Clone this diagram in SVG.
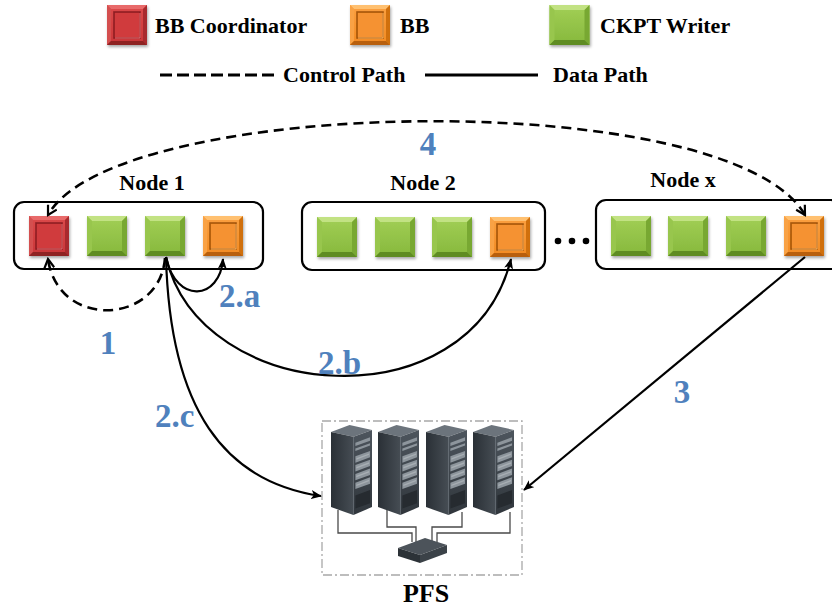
<svg xmlns="http://www.w3.org/2000/svg" xmlns:xlink="http://www.w3.org/1999/xlink" width="832" height="609" viewBox="0 0 832 609">
  <defs>
    <style>
      text { font-family: "Liberation Serif", "DejaVu Serif", "Times New Roman", serif; font-weight: bold; }
      .lbl { fill: #000; }
      .legend { font-size: 22px; }
      .nodeTitle { font-size: 22px; text-anchor: middle; }
      .step { font-size: 33px; fill: #4f81bd; }
      .box { fill: #fff; stroke: #000; stroke-width: 2.2; }
      .ctrl { fill: none; stroke: #000; stroke-width: 2.6; stroke-dasharray: 10 6; }
      .data { fill: none; stroke: #000; stroke-width: 2.2; }
      .wire { fill: none; stroke: #4a4a4a; stroke-width: 1.3; }
    </style>
    <filter id="shadow" x="-20%" y="-20%" width="150%" height="150%">
      <feGaussianBlur in="SourceAlpha" stdDeviation="1.5"/>
      <feOffset dx="1" dy="2" result="b"/>
      <feComponentTransfer><feFuncA type="linear" slope="0.35"/></feComponentTransfer>
      <feMerge><feMergeNode/><feMergeNode in="SourceGraphic"/></feMerge>
    </filter>
    <linearGradient id="gGreen" x1="0" y1="0" x2="0" y2="1">
      <stop offset="0" stop-color="#a2cf56"/>
      <stop offset="1" stop-color="#86b83c"/>
    </linearGradient>
    <linearGradient id="gRed" x1="0" y1="0" x2="0" y2="1">
      <stop offset="0" stop-color="#dc4a4a"/>
      <stop offset="1" stop-color="#c93538"/>
    </linearGradient>
    <linearGradient id="gOrange" x1="0" y1="0" x2="0" y2="1">
      <stop offset="0" stop-color="#fba040"/>
      <stop offset="1" stop-color="#f28a22"/>
    </linearGradient>
    <linearGradient id="gRackSide" x1="0" y1="0" x2="1" y2="0">
      <stop offset="0" stop-color="#2a3036"/>
      <stop offset="1" stop-color="#464d54"/>
    </linearGradient>
    <linearGradient id="gRackFront" x1="0" y1="0" x2="0" y2="1">
      <stop offset="0" stop-color="#4d555d"/>
      <stop offset="1" stop-color="#30363c"/>
    </linearGradient>

    <!-- CKPT writer block: raised bevel -->
    <symbol id="sqGreen" viewBox="0 0 40 40">
      <rect width="40" height="40" fill="url(#gGreen)"/>
      <polygon points="0,0 40,0 35,5 5,5" fill="#c2e283"/>
      <polygon points="0,0 5,5 5,35 0,40" fill="#98c64e"/>
      <polygon points="40,0 40,40 35,35 35,5" fill="#78a832"/>
      <polygon points="0,40 40,40 35,35 5,35" fill="#5f8c22"/>
    </symbol>
    <!-- BB coordinator block: framed bevel with inset square -->
    <symbol id="sqRed" viewBox="0 0 40 40">
      <rect width="40" height="40" fill="url(#gRed)"/>
      <polygon points="0,0 40,0 36,4 4,4" fill="#e86a6a"/>
      <polygon points="0,0 4,4 4,36 0,40" fill="#d45050"/>
      <polygon points="40,0 40,40 36,36 36,4" fill="#a82a2e"/>
      <polygon points="0,40 40,40 36,36 4,36" fill="#8e2024"/>
      <rect x="7" y="7" width="26" height="26" fill="#d03a3d" stroke="#8e1f23" stroke-width="1.6"/>
      <path d="M8 33 H33 V8" fill="none" stroke="#e97274" stroke-width="1"/>
    </symbol>
    <!-- Burst buffer block -->
    <symbol id="sqOrange" viewBox="0 0 40 40">
      <rect width="40" height="40" fill="url(#gOrange)"/>
      <polygon points="0,0 40,0 36,4 4,4" fill="#ffc070"/>
      <polygon points="0,0 4,4 4,36 0,40" fill="#f9a245"/>
      <polygon points="40,0 40,40 36,36 36,4" fill="#d0700e"/>
      <polygon points="0,40 40,40 36,36 4,36" fill="#b85e08"/>
      <rect x="7" y="7" width="26" height="26" fill="#f59230" stroke="#a5560a" stroke-width="1.6"/>
      <path d="M8 33 H33 V8" fill="none" stroke="#ffb865" stroke-width="1"/>
    </symbol>

    <!-- Storage rack, isometric -->
    <symbol id="rack" viewBox="0 0 42 92">
      <polygon points="0,7 19,0 42,5 23,12" fill="#6c747c"/>
      <polygon points="0,7 23,12 23,92 0,84" fill="url(#gRackSide)"/>
      <polygon points="23,12 42,5 42,84 23,92" fill="url(#gRackFront)"/>
      <g fill="#8d959c">
        <polygon points="25,18 40,12.5 40,16 25,21.5"/>
        <polygon points="25,24 40,18.5 40,21 25,26.5"/>
        <polygon points="25,32 40,26.5 40,33 25,38.5"/>
        <polygon points="25,41 40,35.5 40,42 25,47.5"/>
        <polygon points="25,50 40,44.5 40,51 25,56.5"/>
        <polygon points="25,59 40,53.5 40,60 25,65.5"/>
      </g>
      <g fill="#b3b9be" opacity="0.7">
        <polygon points="26,34 39,29 39,30.5 26,35.5"/>
        <polygon points="26,43 39,38 39,39.5 26,44.5"/>
        <polygon points="26,52 39,47 39,48.5 26,53.5"/>
        <polygon points="26,61 39,56 39,57.5 26,62.5"/>
      </g>
      <polygon points="25,72 40,66.5 40,80 25,85.5" fill="#262b30"/>
      <line x1="23" y1="12" x2="23" y2="92" stroke="#5a626a" stroke-width="0.6"/>
    </symbol>

    <marker id="openArrow" viewBox="0 0 12 12" refX="10" refY="6" markerWidth="12" markerHeight="12" markerUnits="userSpaceOnUse" orient="auto-start-reverse">
      <path d="M1,1 L10,6 L1,11" fill="none" stroke="#000" stroke-width="2.2"/>
    </marker>
    <marker id="solidArrow" viewBox="0 0 12 10" refX="11" refY="5" markerWidth="11" markerHeight="9" markerUnits="userSpaceOnUse" orient="auto">
      <path d="M0,0 L12,5 L0,10 L3,5 Z" fill="#000"/>
    </marker>
  </defs>

  <rect width="832" height="609" fill="#fff"/>

  <!-- Legend -->
  <g id="legend">
    <use href="#sqRed" x="107" y="5" width="40" height="40" filter="url(#shadow)"/>
    <text class="lbl legend" x="155" y="33" font-family="Liberation Serif, DejaVu Serif, serif">BB Coordinator</text>
    <use href="#sqOrange" x="350" y="5" width="40" height="40" filter="url(#shadow)"/>
    <text class="lbl legend" x="400" y="33">BB</text>
    <use href="#sqGreen" x="549" y="5" width="41" height="40" filter="url(#shadow)"/>
    <text class="lbl legend" x="600" y="33">CKPT Writer</text>
    <line x1="160" y1="75" x2="277" y2="75" stroke="#000" stroke-width="3" stroke-dasharray="12 5"/>
    <text class="lbl legend" x="283" y="82">Control Path</text>
    <line x1="425" y1="75" x2="538" y2="75" stroke="#000" stroke-width="3"/>
    <text class="lbl legend" x="553" y="82">Data Path</text>
  </g>

  <!-- Compute node 1 -->
  <g id="node1">
    <text class="lbl nodeTitle" x="152" y="190">Node 1</text>
    <rect class="box" x="14" y="202" width="249" height="67" rx="10"/>
    <use href="#sqRed" x="29" y="216" width="40" height="40" filter="url(#shadow)"/>
    <use href="#sqGreen" x="87" y="216" width="40" height="40" filter="url(#shadow)"/>
    <use href="#sqGreen" x="145" y="216" width="40" height="40" filter="url(#shadow)"/>
    <use href="#sqOrange" x="203" y="216" width="40" height="40" filter="url(#shadow)"/>
  </g>

  <!-- Compute node 2 -->
  <g id="node2">
    <text class="lbl nodeTitle" x="423" y="190">Node 2</text>
    <rect class="box" x="302" y="202" width="243" height="68" rx="10"/>
    <use href="#sqGreen" x="317" y="217" width="40" height="40" filter="url(#shadow)"/>
    <use href="#sqGreen" x="375" y="217" width="40" height="40" filter="url(#shadow)"/>
    <use href="#sqGreen" x="432" y="217" width="40" height="40" filter="url(#shadow)"/>
    <use href="#sqOrange" x="490" y="217" width="40" height="40" filter="url(#shadow)"/>
  </g>

  <!-- Ellipsis between nodes -->
  <g id="ellipsis" fill="#000">
    <circle cx="558" cy="241" r="3.3"/>
    <circle cx="572" cy="241" r="3.3"/>
    <circle cx="586" cy="241" r="3.3"/>
  </g>

  <!-- Compute node x -->
  <g id="nodeX">
    <text class="lbl nodeTitle" x="683" y="187">Node x</text>
    <rect class="box" x="596" y="200" width="245" height="69" rx="10"/>
    <use href="#sqGreen" x="611" y="216" width="40" height="40" filter="url(#shadow)"/>
    <use href="#sqGreen" x="668" y="216" width="40" height="40" filter="url(#shadow)"/>
    <use href="#sqGreen" x="726" y="216" width="40" height="40" filter="url(#shadow)"/>
    <use href="#sqOrange" x="784" y="216" width="40" height="40" filter="url(#shadow)"/>
  </g>

  <!-- Parallel file system -->
  <g id="pfs">
    <rect x="322" y="421" width="200" height="154" fill="#fff" stroke="#a8a8a8" stroke-width="1.3" stroke-dasharray="9 3 2 3"/>
    <path class="wire" d="M338 510 V533 H412 V542"/>
    <path class="wire" d="M387 510 V527 H416 V542"/>
    <path class="wire" d="M462 512 V527 H432 V542"/>
    <path class="wire" d="M510 512 V533 H437 V542"/>
    <use href="#rack" x="331" y="424" width="41" height="92"/>
    <use href="#rack" x="378" y="424" width="41" height="92"/>
    <use href="#rack" x="426" y="424" width="41" height="92"/>
    <use href="#rack" x="473" y="424" width="41" height="92"/>
    <!-- network switch -->
    <polygon points="398,548 425,538 447,545 420,555" fill="#4c535a"/>
    <polygon points="398,548 420,555 420,563 398,556" fill="#2c3237"/>
    <polygon points="420,555 447,545 447,553 420,563" fill="#3b4248"/>
    <text class="lbl" x="426" y="602" font-size="26" text-anchor="middle">PFS</text>
  </g>

  <!-- Connectors -->
  <g id="connectors">
    <path class="ctrl" d="M805 215 C730 85, 115 95, 48 215" marker-start="url(#openArrow)" marker-end="url(#openArrow)"/>
    <path class="ctrl" d="M165 258 C160 325, 58 330, 48 259" marker-end="url(#openArrow)"/>
    <path class="data" d="M166 257 C176 305, 220 300, 223 259" marker-end="url(#solidArrow)"/>
    <path class="data" d="M166 257 C200 405, 470 425, 511 259" marker-end="url(#solidArrow)"/>
    <path class="data" d="M166 257 C170 410, 225 482, 321 496" marker-end="url(#solidArrow)"/>
    <path class="data" d="M805 257 L524 490" marker-end="url(#solidArrow)"/>
  </g>

  <!-- Step labels -->
  <g id="steps">
    <text class="step" x="428" y="155" text-anchor="middle">4</text>
    <text class="step" x="108" y="354" text-anchor="middle">1</text>
    <text class="step" x="219" y="307">2.a</text>
    <text class="step" x="318" y="374">2.b</text>
    <text class="step" x="155" y="427">2.c</text>
    <text class="step" x="682" y="403" text-anchor="middle">3</text>
  </g>
</svg>
